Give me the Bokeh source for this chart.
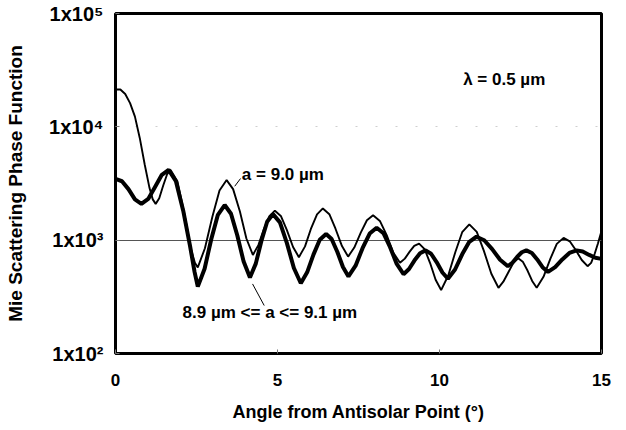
from bokeh.plotting import figure
from bokeh.models import Range1d, FixedTicker, Label, Grid
from bokeh.embed import file_html
from bokeh.resources import INLINE

# ---- data (angle in degrees, phase function value) ----
thin_angle = [0.0, 0.15, 0.3, 0.45, 0.6, 0.75, 0.9, 1.05, 1.15, 1.24, 1.35, 1.47, 1.59, 1.70,
              1.91, 2.12, 2.33, 2.45, 2.54, 2.76, 2.99, 3.21, 3.43, 3.63, 3.84, 4.04, 4.24,
              4.41, 4.58, 4.75, 4.92, 5.11, 5.29, 5.48, 5.66, 5.85, 6.03, 6.22, 6.40, 6.60,
              6.79, 6.99, 7.18, 7.37, 7.57, 7.76, 7.95, 8.16, 8.37, 8.57, 8.78, 8.93, 9.08,
              9.22, 9.37, 9.54, 9.71, 9.88, 10.05, 10.27, 10.49, 10.70, 10.92, 11.15, 11.37,
              11.60, 11.82, 11.97, 12.13, 12.28, 12.43, 12.57, 12.72, 12.86, 13.0, 13.21,
              13.42, 13.62, 13.83, 14.02, 14.20, 14.39, 14.57, 14.68, 14.79, 14.89, 15.0]
thin_value = [21380, 21380, 19500, 16200, 12300, 7940, 4680, 2880, 2290, 2090, 2340, 3020, 3800, 4170,
              3310, 1740, 832, 631, 575, 849, 1610, 2740, 3390, 2820, 1790, 1035, 741,
              904, 1250, 1630, 1820, 1625, 1225, 871, 708, 881, 1256, 1690, 1905, 1694,
              1262, 887, 716, 861, 1167, 1500, 1660, 1479, 1107, 780, 631, 687, 792,
              891, 933, 834, 628, 447, 363, 488, 787, 1175, 1380, 1183, 804,
              505, 380, 430, 524, 631, 692, 646, 537, 437, 380, 475,
              684, 927, 1047, 977, 822, 668, 589, 631, 759, 933, 1202]

thick_angle = [0.0, 0.2, 0.4, 0.6, 0.8, 1.01, 1.22, 1.43, 1.64, 1.865, 2.09, 2.30, 2.44, 2.54,
               2.75, 2.955, 3.16, 3.37, 3.565, 3.76, 3.955, 4.15, 4.33, 4.505, 4.68, 4.86,
               5.075, 5.29, 5.505, 5.72, 5.915, 6.11, 6.305, 6.50, 6.67, 6.845, 7.02, 7.19,
               7.41, 7.625, 7.845, 8.06, 8.27, 8.475, 8.68, 8.89, 9.06, 9.23, 9.40, 9.57,
               9.74, 9.915, 10.09, 10.26, 10.48, 10.70, 10.92, 11.14, 11.38, 11.625, 11.87,
               12.11, 12.25, 12.395, 12.54, 12.68, 12.85, 13.015, 13.18, 13.35, 13.57, 13.79,
               14.01, 14.23, 14.42, 14.62, 14.81, 15.0]
thick_value = [3470, 3310, 2820, 2290, 2090, 2310, 2950, 3770, 4170, 3310, 1820, 891, 525, 389,
               560, 1019, 1675, 2042, 1710, 1099, 647, 468, 621, 989, 1455, 1698,
               1435, 942, 568, 417, 520, 745, 1007, 1135, 1023, 791, 579, 479,
               596, 849, 1143, 1288, 1151, 867, 617, 501, 557, 664, 767, 813,
               759, 638, 519, 457, 551, 750, 968, 1072, 998, 834, 671,
               589, 632, 710, 782, 813, 771, 676, 578, 525, 578, 676,
               771, 813, 794, 741, 700, 684]

x_ticks = [0, 5, 10, 15]
y_ticks = [1e2, 1e3, 1e4, 1e5]
y_tick_labels = {100: "1x10\u00b2", 1000: "1x10\u00b3", 10000: "1x10\u2074", 100000: "1x10\u2075"}
grid_levels = [1e3]
faint_grid_levels = [1e4]

FONT = "Liberation Sans"

p = figure(width=618, height=428, output_backend="svg", toolbar_location=None,
           y_axis_type="log", x_range=Range1d(0, 15), y_range=Range1d(1e2, 1e5),
           min_border_left=115, min_border_right=17, min_border_top=13, min_border_bottom=75)
p.background_fill_color = "white"
p.border_fill_color = "white"
p.outline_line_color = "black"
p.outline_line_width = 3

# grids
p.xgrid.visible = False
p.ygrid.ticker = FixedTicker(ticks=grid_levels)
p.ygrid.grid_line_color = "#555555"
p.ygrid.grid_line_width = 1
faint = Grid(dimension=1, ticker=FixedTicker(ticks=faint_grid_levels),
             grid_line_color="#cfcfcf", grid_line_width=1, grid_line_dash="2 18")
p.add_layout(faint)

# axes
p.xaxis.ticker = FixedTicker(ticks=x_ticks)
p.yaxis.ticker = FixedTicker(ticks=y_ticks)
p.yaxis.major_label_overrides = y_tick_labels
for ax in (p.xaxis[0], p.yaxis[0]):
    ax.axis_line_color = None
    ax.major_tick_in = 4
    ax.major_tick_out = 0
    ax.major_tick_line_color = "#777777"
    ax.minor_tick_line_color = None
    ax.major_label_text_font = FONT
    ax.major_label_text_font_style = "bold"
    ax.major_label_text_color = "black"
    ax.axis_label_text_font = FONT
    ax.axis_label_text_font_style = "bold"
    ax.axis_label_text_color = "black"

p.xaxis.axis_label_text_font_size = "18px"
p.yaxis.axis_label_text_font_size = "19px"
p.xaxis.major_label_text_font_size = "17px"
p.yaxis.major_label_text_font_size = "20px"
p.xaxis.major_label_standoff = 20
p.yaxis.major_label_standoff = 12
p.xaxis.axis_label = "Angle from Antisolar Point (\u00b0)"
p.yaxis.axis_label = "Mie Scattering Phase Function"
p.xaxis.axis_label_standoff = 13
p.yaxis.axis_label_standoff = 20

# curves
p.line(thin_angle, thin_value, line_color="black", line_width=1.9)
p.line(thick_angle, thick_value, line_color="black", line_width=4)

# annotations
p.segment(x0=[3.68, 4.23], y0=[2990, 411], x1=[3.86, 4.59], y1=[3500, 265],
          line_color="black", line_width=1)
p.add_layout(Label(x=3.9, y=3800, text="a = 9.0 \u00b5m", text_font=FONT, text_color="black",
                   text_font_style="bold", text_font_size="17px", text_baseline="middle"))
p.add_layout(Label(x=2.07, y=230, text="8.9 \u00b5m <= a <= 9.1 \u00b5m", text_font=FONT,
                   text_color="black", text_font_style="bold", text_font_size="17px",
                   text_baseline="middle"))
p.add_layout(Label(x=10.73, y=26100, text="\u03bb = 0.5 \u00b5m", text_font=FONT, text_color="black",
                   text_font_style="bold", text_font_size="17px", text_baseline="middle"))

open("out.html", "w").write(file_html(p, INLINE))
